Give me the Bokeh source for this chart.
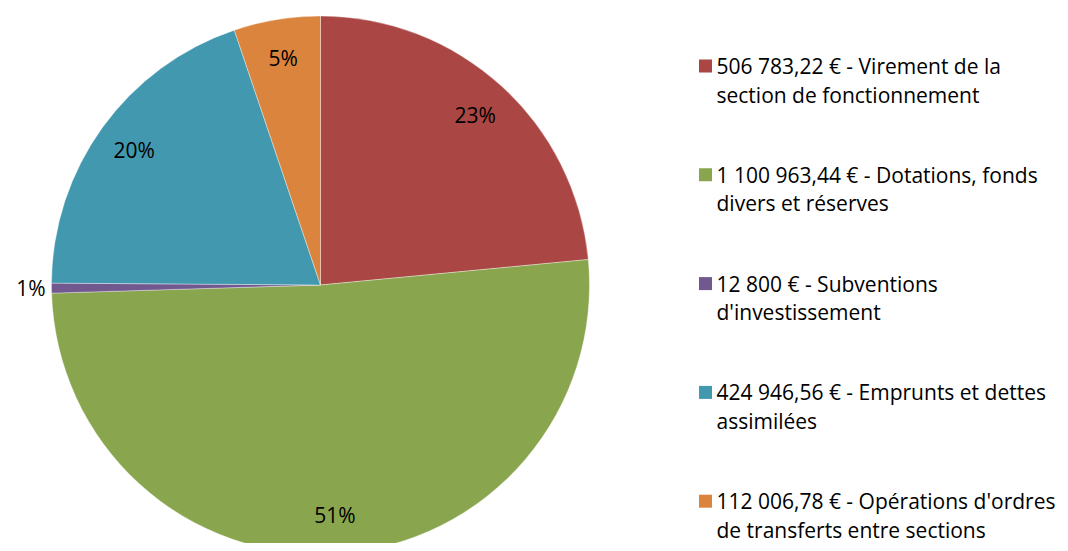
import math
from bokeh.plotting import figure
from bokeh.models import Range1d, ColumnDataSource
from bokeh.core.properties import value
from bokeh.embed import file_html
from bokeh.resources import INLINE

# ---- data ----
categories = [
    "Virement de la\nsection de fonctionnement",
    "Dotations, fonds\ndivers et réserves",
    "Subventions\nd'investissement",
    "Emprunts et dettes\nassimilées",
    "Opérations d'ordres\nde transferts entre sections",
]
value_labels = ["506 783,22 €", "1 100 963,44 €", "12 800 €", "424 946,56 €", "112 006,78 €"]
values = [506783.22, 1100963.44, 12800.0, 424946.56, 112006.78]
colors = ["#AA4643", "#89A54E", "#71588F", "#4198AF", "#DB843D"]

FONT = "Open Sans"
W, H = 1060, 543

p = figure(width=W, height=H, output_backend="svg", toolbar_location=None,
           x_range=Range1d(0, W), y_range=Range1d(0, H),
           min_border=0)
p.axis.visible = False
p.grid.visible = False
p.outline_line_color = None
p.background_fill_color = "white"
p.border_fill_color = "white"

def sy(y):  # screen y (down) -> data y (up)
    return H - y

cx, cy, R = 320, sy(284.5), 269
total = sum(values)
fracs = [v / total for v in values]
starts, ends, mids = [], [], []
acc = 0.0
for f in fracs:
    a0 = math.pi / 2 - 2 * math.pi * acc
    a1 = math.pi / 2 - 2 * math.pi * (acc + f)
    starts.append(a0)
    ends.append(a1)
    mids.append((a0 + a1) / 2)
    acc += f

src = ColumnDataSource(dict(start=starts, end=ends, color=colors))
p.wedge(x=cx, y=cy, radius=R, start_angle="start", end_angle="end",
        direction="clock", fill_color="color", line_color="white",
        line_width=0.6, line_alpha=0.6, source=src)

# percent labels (centred on computed point)
LBL_SIZE = 21
for f, m in zip(fracs, mids):
    txt = f"{round(f * 100)}%"
    if f < 0.02:
        r = R + 6
        align = "right" if math.cos(m) < 0 else "left"
    else:
        r = 0.855 * R
        align = "center"
    x = cx + r * math.cos(m)
    y = cy + r * math.sin(m)
    p.text(x=[x], y=[y], text=[txt], text_font=value(FONT),
           text_font_size=f"{LBL_SIZE}px", text_align=align,
           text_baseline="middle", text_color="black")

# legend
LEG_SIZE = 21
sq_x, txt_x = 705, 716
c0, step, lh = 65.5, 108.8, 28.5
for i, (vl, cat, col) in enumerate(zip(value_labels, categories, colors)):
    c = c0 + i * step
    p.rect(x=[sq_x], y=[sy(c)], width=13, height=13, fill_color=col, line_color=None)
    lines = f"{vl} - {cat}".split("\n")
    for j, ln in enumerate(lines):
        p.text(x=[txt_x], y=[sy(c + j * lh)], text=[ln], text_font=value(FONT),
               text_font_size=f"{LEG_SIZE}px", text_align="left",
               text_baseline="middle", text_color="black")

open("out.html", "w").write(file_html(p, INLINE))
